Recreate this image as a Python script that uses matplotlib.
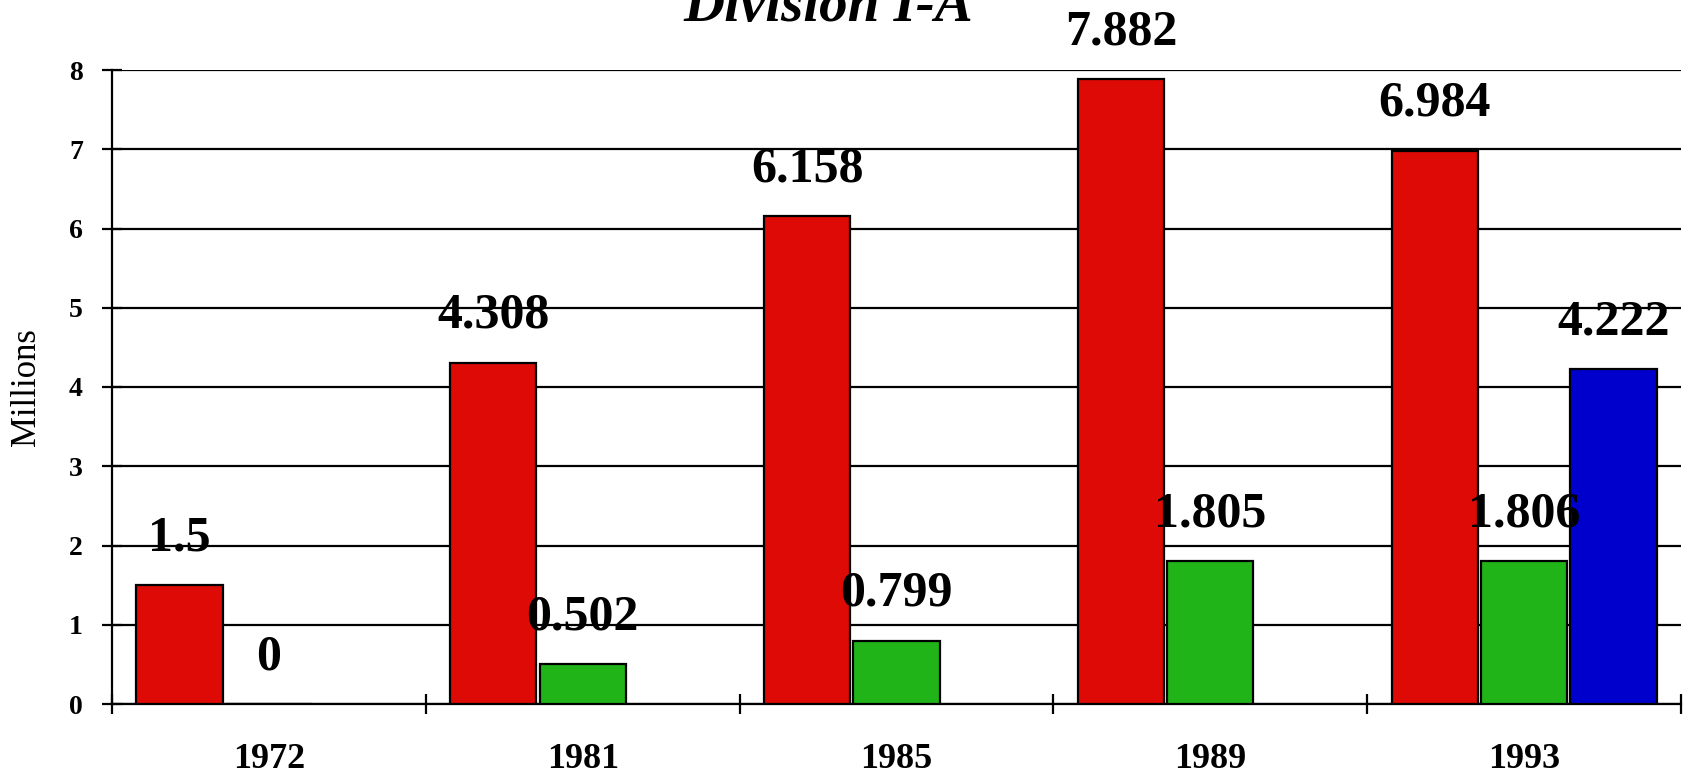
import matplotlib
matplotlib.use("Agg")
import matplotlib.pyplot as plt
import numpy as np

# data
years = ["1972", "1981", "1985", "1989", "1993"]
red_vals = [1.5, 4.308, 6.158, 7.882, 6.984]
green_vals = [0, 0.502, 0.799, 1.805, 1.806]
blue_vals = [None, None, None, None, 4.222]
y_ticks = [0, 1, 2, 3, 4, 5, 6, 7, 8]

plt.rcParams['font.family'] = ['Liberation Serif', 'DejaVu Serif']

fig = plt.figure(figsize=(16.86, 7.76), dpi=100)
ax = fig.add_axes([112 / 1686, 1 - 704 / 776, 1569 / 1686, 634 / 776])

x = np.arange(len(years))
w = 0.275
off = 0.285

series = [(red_vals, -off, "#DD0A06"),
          (green_vals, 0.0, "#20B419"),
          (blue_vals, off, "#0000CC")]

for vals, dx, col in series:
    for i, v in enumerate(vals):
        if v is None:
            continue
        ax.bar(x[i] + dx, v, width=w, color=col, edgecolor="black",
               linewidth=1.6, zorder=3)
        ax.annotate(f"{v:g}", (x[i] + dx, v), xytext=(0, 25),
                    textcoords="offset points", ha="center", va="baseline",
                    fontsize=36, fontweight="bold", zorder=5,
                    annotation_clip=False)

ax.set_xlim(-0.5, len(years) - 0.5)
ax.set_ylim(0, 8)

# gridlines
ax.set_yticks(y_ticks)
for lab in ax.get_yticklabels():
    lab.set_fontweight("bold")
ax.yaxis.grid(True, color="black", linewidth=1.6, zorder=0)
ax.set_axisbelow(True)

# ticks on group boundaries, labels at centres
ax.set_xticks(np.arange(-0.5, len(years), 1.0))
ax.set_xticklabels([])
ax.set_xticks(x, minor=True)
ax.set_xticklabels(years, minor=True, fontsize=26, fontweight="bold")
ax.tick_params(axis="x", which="major", direction="inout", length=14,
               width=1.6)
ax.tick_params(axis="x", which="minor", length=0, pad=28)
ax.tick_params(axis="y", direction="inout", length=14, width=1.6,
               labelsize=20, pad=14)

for s in ["top", "right"]:
    ax.spines[s].set_visible(False)
for s in ["left", "bottom"]:
    ax.spines[s].set_linewidth(1.6)

fig.text(26 / 1686, 1 - 387 / 776, "Millions", rotation=90, fontsize=25,
         ha="center", va="center")
fig.text(828 / 1686, 1 - 21 / 776, "Division I-A", fontsize=41,
         fontweight="bold", fontstyle="italic", ha="center", va="baseline")

fig.savefig("out.png", dpi=100)
